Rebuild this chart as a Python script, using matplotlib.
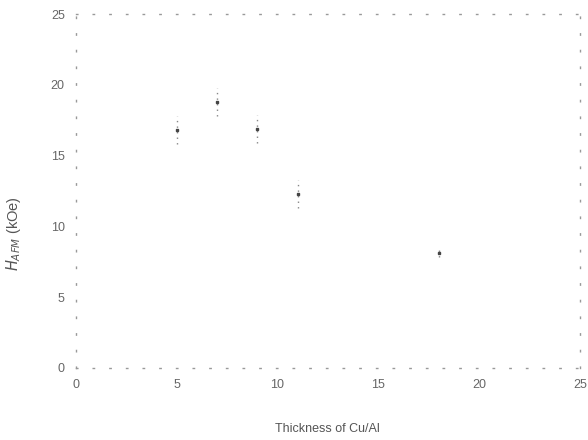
import matplotlib.pyplot as plt
import numpy as np

plt.rcParams['font.family'] = ['Liberation Sans', 'DejaVu Sans']

# exchange field vs spacer thickness
thickness = [5, 7, 9, 11, 18]
h_afm = [16.8, 18.8, 16.9, 12.3, 8.1]
h_err = [1.0, 1.0, 1.0, 1.0, 0.3]

x_ticks = [0, 5, 10, 15, 20, 25]
y_ticks = [0, 5, 10, 15, 20, 25]

fig = plt.figure(figsize=(5.88, 4.40), dpi=100)
ax = fig.add_axes([0.129, 0.164, 0.857, 0.804])

eb = ax.errorbar(thickness, h_afm, yerr=h_err, fmt='s', ms=1.8,
                 color='#444444', ecolor='#888888', elinewidth=1.0,
                 capsize=0)
eb[-1][0].set_linestyle((0, (1, 3)))

ax.set_xlim(0, 25)
ax.set_ylim(0, 25)
ax.set_xticks(x_ticks)
ax.set_yticks(y_ticks)
ax.tick_params(length=0, labelsize=9, labelcolor='#666666', pad=8)

# scanned-looking dotted frame
for side in ['left', 'right', 'top', 'bottom']:
    ax.spines[side].set_linestyle((0, (1, 11)))
    ax.spines[side].set_color('#999999')
    ax.spines[side].set_linewidth(1.0)

ax.set_xlabel("Thickness of Cu/Al", fontsize=9, color='#555555')
ax.xaxis.set_label_coords(0.5, -0.155)
ax.set_ylabel(r"$H_{AFM}$ (kOe)", fontsize=10.5, color='#555555')
ax.yaxis.set_label_coords(-0.105, 0.38)

fig.savefig("out.png", dpi=100)
